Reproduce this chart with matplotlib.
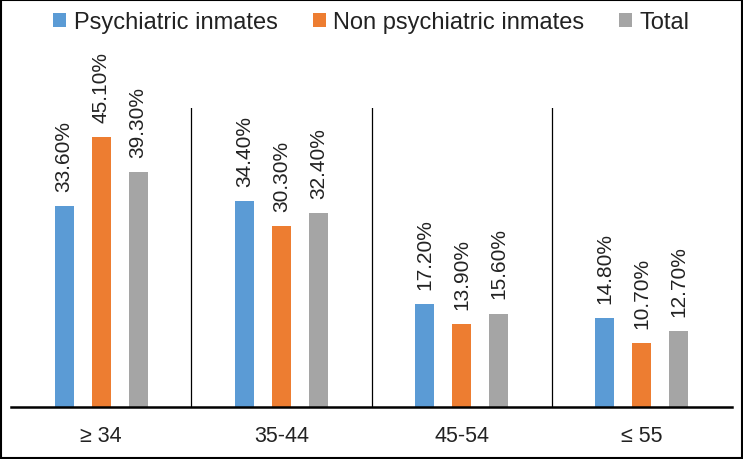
import matplotlib
matplotlib.use('Agg')
import numpy as np
from matplotlib import pyplot as plt
from matplotlib.patches import Rectangle

# Age groups and share of inmates in each (percent)
categories = ['≥ 34', '35-44', '45-54', '≤ 55']
psychiatric = [33.6, 34.4, 17.2, 14.8]
non_psychiatric = [45.1, 30.3, 13.9, 10.7]
total = [39.3, 32.4, 15.6, 12.7]

series_names = ['Psychiatric inmates', 'Non psychiatric inmates', 'Total']
series_colors = ['#5B9BD5', '#ED7D31', '#A5A5A5']

plt.rcParams['font.family'] = ['Liberation Sans', 'DejaVu Sans']

fig = plt.figure(figsize=(7.43, 4.6), dpi=100)
ax = fig.add_axes([11 / 743, 52 / 460, 721 / 743, 299 / 460])

x = np.arange(len(categories))
width = 0.106
offsets = [-0.205, 0.0, 0.205]
all_series = [psychiatric, non_psychiatric, total]

for values, name, color, off in zip(all_series, series_names, series_colors, offsets):
    bars = ax.bar(x + off, values, width=width, color=color, label=name)
    for rect, v in zip(bars, values):
        ax.annotate(f'{v:.2f}%', (rect.get_x() + rect.get_width() / 2, v),
                    xytext=(0, 11), textcoords='offset points',
                    rotation=90, ha='center', va='bottom',
                    fontsize=15, color='#222222', annotation_clip=False)

# separators between age groups
for b in [0.5, 1.5, 2.5]:
    ax.axvline(b, ymin=0, ymax=1, color='black', linewidth=0.9)

ax.set_xlim(-0.5, len(categories) - 0.5)
ax.set_ylim(0, 50)
ax.set_yticks([])
ax.set_xticks(x)
ax.set_xticklabels(categories, fontsize=15.5, color='#222222')
ax.tick_params(axis='x', length=0, pad=13)
for side in ['top', 'right', 'left']:
    ax.spines[side].set_visible(False)
ax.spines['bottom'].set_linewidth(1.8)
ax.spines['bottom'].set_color('black')

leg = fig.legend(loc='center', bbox_to_anchor=(0.5, 1 - 23 / 460), ncol=3,
                 frameon=False, fontsize=17, handlelength=0.55, handleheight=0.55,
                 handletextpad=0.3, columnspacing=1.5)
for t in leg.get_texts():
    t.set_color('#222222')

# border around the whole picture
fig.patches.append(Rectangle((0.001, 0.002), 0.997, 0.996, transform=fig.transFigure,
                             fill=False, edgecolor='black', linewidth=1.5))

fig.savefig('out.png', dpi=100)
